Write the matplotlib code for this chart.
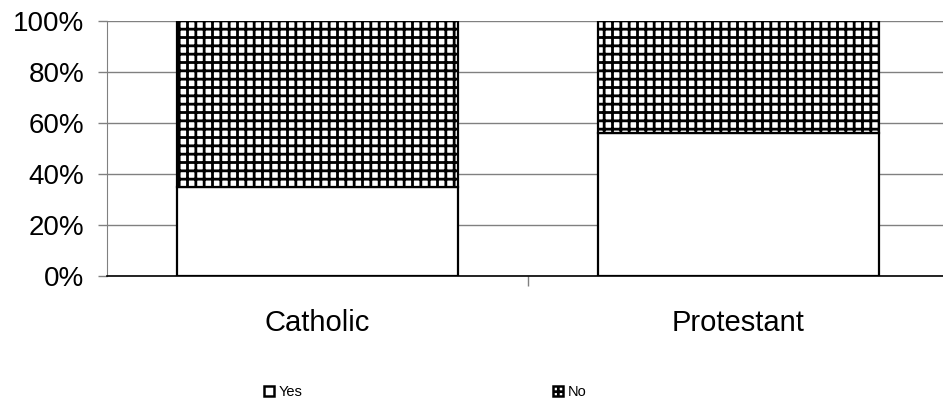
import numpy as np
import matplotlib.pyplot as plt
from matplotlib.patches import Patch
from matplotlib.ticker import FixedLocator, PercentFormatter

plt.rcParams['font.family'] = ['Liberation Sans', 'DejaVu Sans']
plt.rcParams['hatch.linewidth'] = 2.0

categories = ['Catholic', 'Protestant']
yes = np.array([35, 56])
no = 100 - yes

fig = plt.figure(figsize=(9.43, 4.03), dpi=100)
ax = fig.add_axes([107/943, 1 - 276/403, 842/943, 255/403])

x = np.arange(len(categories))
w = 0.667
ax.bar(x, yes, w, color='white', edgecolor='black', linewidth=1.6, zorder=3)
ax.bar(x, no, w, bottom=yes, color='white', edgecolor='black', hatch='++',
       linewidth=1.6, zorder=3)

ax.set_xlim(-0.5, 1.5)
ax.set_ylim(0, 100)
ax.set_yticks(np.arange(0, 101, 20))
ax.yaxis.set_major_formatter(PercentFormatter(decimals=0))
ax.yaxis.grid(True, color='#808080', linewidth=1.0, zorder=0)

ax.set_xticks(x)
ax.set_xticklabels(categories)
ax.xaxis.set_minor_locator(FixedLocator([0.5]))
ax.tick_params(axis='x', which='major', length=0, pad=24, labelsize=21)
ax.tick_params(axis='x', which='minor', length=7.5, width=1, color='#808080')
ax.tick_params(axis='y', length=6.5, width=1, color='#808080', pad=10, labelsize=20)

for s in ['top', 'right']:
    ax.spines[s].set_visible(False)
ax.spines['left'].set_color('#808080')
ax.spines['bottom'].set_color('black')
ax.spines['bottom'].set_linewidth(1.2)

handles = [Patch(facecolor='white', edgecolor='black', linewidth=1.8),
           Patch(facecolor='white', edgecolor='black', hatch='+', linewidth=1.8)]
fig.legend(handles, ['Yes', 'No'], ncol=2, loc='center',
           bbox_to_anchor=(425/943, 1 - 392/403), frameon=False, fontsize=10.5,
           handlelength=0.7, handleheight=0.7, handletextpad=0.3,
           columnspacing=17.2, borderpad=0)

fig.savefig('out.png', dpi=100)
